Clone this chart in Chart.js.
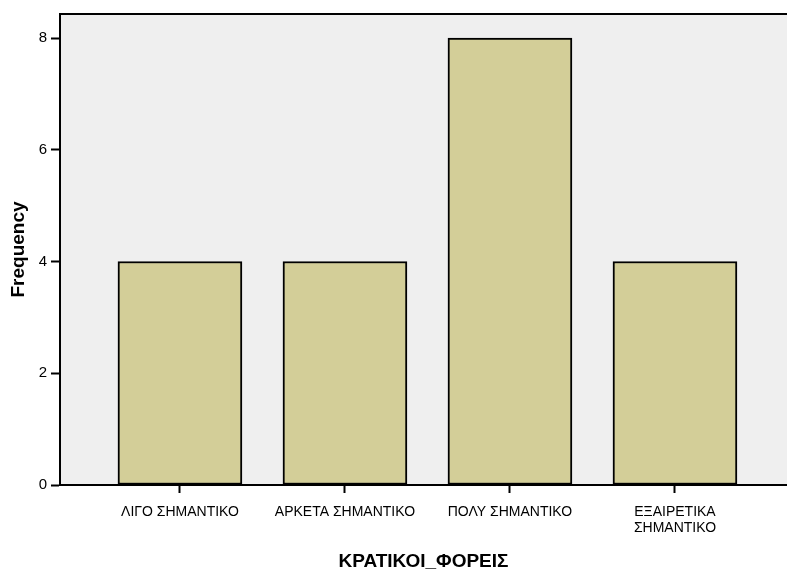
<!DOCTYPE html>
<html>
<head>
<meta charset="utf-8">
<script src="https://cdn.jsdelivr.net/npm/chart.js@4/dist/chart.umd.min.js"></script>
<style>
  html, body { margin: 0; padding: 0; background: #ffffff; }
  #wrap { width: 787px; height: 570px; }
</style>
</head>
<body>
<div id="wrap"><canvas id="chart" width="787" height="570"></canvas></div>
<script>
// Frequency of answers per category
const CATEGORIES = ['ΛΙΓΟ ΣΗΜΑΝΤΙΚΟ', 'ΑΡΚΕΤΑ ΣΗΜΑΝΤΙΚΟ', 'ΠΟΛΥ ΣΗΜΑΝΤΙΚΟ', ['ΕΞΑΙΡΕΤΙΚΑ', 'ΣΗΜΑΝΤΙΚΟ']];
const FREQUENCY = [4, 4, 8, 4];
const Y_TICKS = [0, 2, 4, 6, 8];
const X_TITLE = 'ΚΡΑΤΙΚΟΙ_ΦΟΡΕΙΣ';
const Y_TITLE = 'Frequency';

const FONT = 'Liberation Sans, Arial, sans-serif';

// Grey plot panel with a top frame line
const panel = {
  id: 'panel',
  beforeDraw(chart) {
    const { ctx, chartArea: a } = chart;
    ctx.save();
    ctx.fillStyle = '#efefef';
    ctx.fillRect(a.left, a.top, a.right - a.left, a.bottom - a.top);
    ctx.strokeStyle = '#000';
    ctx.lineWidth = 2;
    ctx.beginPath();
    ctx.moveTo(a.left, a.top);
    ctx.lineTo(a.right, a.top);
    ctx.stroke();
    ctx.restore();
  }
};

new Chart(document.getElementById('chart'), {
  type: 'bar',
  data: {
    datasets: [{
      data: FREQUENCY.map((v, i) => ({ x: i, y: v })),
      backgroundColor: '#d3ce98',
      borderColor: '#000',
      borderWidth: 2,
      borderSkipped: false,
      barThickness: 124
    }]
  },
  plugins: [panel],
  options: {
    responsive: false,
    animation: false,
    events: [],
    layout: { padding: { top: 14, right: 0, left: 0, bottom: 0 } },
    plugins: { legend: { display: false }, tooltip: { enabled: false } },
    scales: {
      x: {
        type: 'linear',
        offset: false,
        min: -0.727,
        max: 3.679,
        afterFit(s) { s.height = 85; },
        afterBuildTicks(s) { s.ticks = CATEGORIES.map((_, i) => ({ value: i })); },
        grid: { offset: false, drawOnChartArea: false, drawTicks: true, tickLength: 8, tickWidth: 2, color: '#000' },
        border: { display: true, color: '#000', width: 2 },
        ticks: {
          autoSkip: false,
          maxRotation: 0,
          padding: 12,
          color: '#000',
          font: { family: FONT, size: 14, lineHeight: 1.08 },
          callback: (v) => CATEGORIES[v]
        },
        title: {
          display: true,
          text: X_TITLE,
          color: '#000',
          font: { family: FONT, size: 19, weight: 'bold' },
          padding: { top: 0, bottom: -3 }
        }
      },
      y: {
        min: 0,
        max: 8.43,
        afterFit(s) { s.width = 60; },
        afterBuildTicks(s) { s.ticks = Y_TICKS.map(v => ({ value: v })); },
        grid: { drawOnChartArea: false, drawTicks: true, tickLength: 9, tickWidth: 2, color: '#000' },
        border: { display: true, color: '#000', width: 2 },
        ticks: {
          padding: 4,
          color: '#000',
          font: { family: FONT, size: 15 }
        },
        title: {
          display: true,
          text: Y_TITLE,
          color: '#000',
          font: { family: FONT, size: 19, weight: 'bold' },
          padding: { top: 7, bottom: 0 }
        }
      }
    }
  }
});
</script>
</body>
</html>
